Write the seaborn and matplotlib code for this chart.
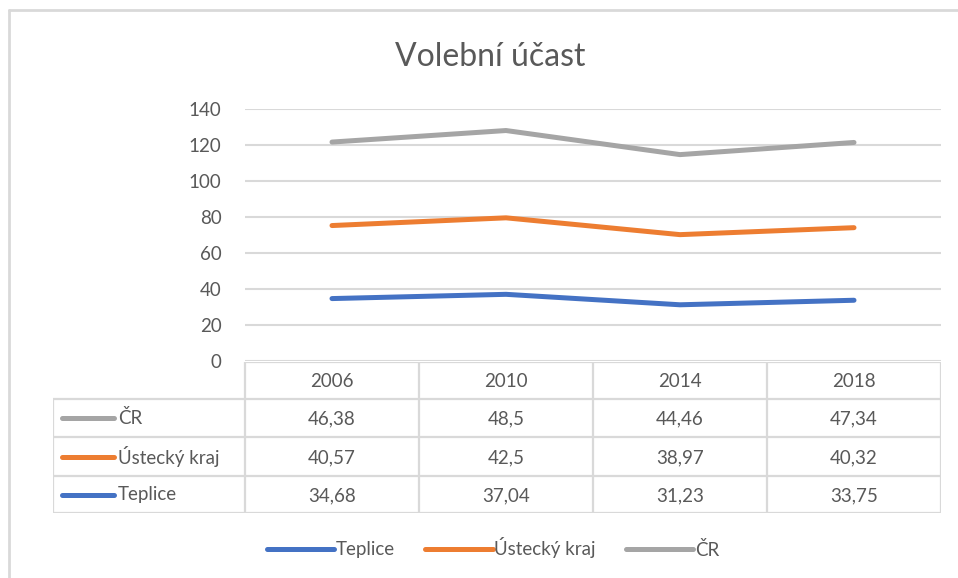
import pandas as pd
import seaborn as sns
import matplotlib.pyplot as plt
from matplotlib.lines import Line2D

# Data
roky = ["2006", "2010", "2014", "2018"]
serie = ["Teplice", "Ústecký kraj", "ČR"]
teplice = [34.68, 37.04, 31.23, 33.75]
ustecky = [40.57, 42.5, 38.97, 40.32]
cr = [46.38, 48.5, 44.46, 47.34]
barvy = ["#4472C4", "#ED7D31", "#A5A5A5"]
yticks = [0, 20, 40, 60, 80, 100, 120, 140]

# Skládaný spojnicový graf -> kumulativní součty
hodnoty = {"Teplice": teplice, "Ústecký kraj": ustecky, "ČR": cr}
df = pd.DataFrame(hodnoty, index=roky)
cum = df.cumsum(axis=1)
long_df = cum.reset_index(names="rok").melt(id_vars="rok", var_name="serie", value_name="hodnota")
long_df["x"] = long_df["rok"].map({r: i for i, r in enumerate(roky)})

sns.set_style("white")
plt.rcParams["font.family"] = ["Lato", "DejaVu Sans"]
text_col = "#595959"
grid_col = "#D9D9D9"
fs = 13.5

W, H = 958, 578
fig = plt.figure(figsize=(W / 100, H / 100), dpi=100)

def px(x0, y0, x1, y1):
    return [x0 / W, 1 - y1 / H, (x1 - x0) / W, (y1 - y0) / H]

# okraj grafu
fig.add_artist(Line2D([9 / W, 9 / W], [0, 1 - 10 / H], color="#D9D9D9", lw=2))
fig.add_artist(Line2D([9 / W, 1], [1 - 10 / H, 1 - 10 / H], color="#D9D9D9", lw=2))

ax = fig.add_axes(px(245, 109, 941, 361))
sns.lineplot(data=long_df, x="x", y="hodnota", hue="serie", hue_order=serie,
             palette=barvy, linewidth=3.6, ax=ax, legend=False)
ax.set_xlim(-0.5, len(roky) - 0.5)
ax.set_ylim(0, 140)
ax.set_yticks(yticks)
ax.set_yticklabels([str(t) for t in yticks], color=text_col, fontsize=fs)
ax.tick_params(axis="y", length=0, pad=17)
ax.set_xticks([])
ax.set_xlabel("")
ax.set_ylabel("")
ax.grid(axis="y", color=grid_col, lw=1.5)
ax.set_axisbelow(True)
for s in ax.spines.values():
    s.set_visible(False)

fig.text(490 / W, 1 - 57 / H, "Volební účast", ha="center", va="center",
         fontsize=23, color=text_col)

# Tabulka dat
tab = fig.add_axes(px(53, 362, 941, 513))
tab.set_xlim(53, 941)
tab.set_ylim(513, 362)
tab.axis("off")
col_x = [245 + i * 696 / 4 for i in range(5)]
row_y = [362, 399, 437, 476, 513]
lc = dict(color=grid_col, lw=1.6, solid_capstyle="butt")
for x in col_x:
    tab.plot([x, x], [row_y[0], row_y[-1]], **lc)
tab.plot([53, 53], [row_y[1], row_y[-1]], **lc)
tab.plot([col_x[0], col_x[-1]], [row_y[0], row_y[0]], **lc)
for y in row_y[1:]:
    tab.plot([53, col_x[-1]], [y, y], **lc)
for i, r in enumerate(roky):
    tab.text((col_x[i] + col_x[i + 1]) / 2, (row_y[0] + row_y[1]) / 2 + 1, r,
             ha="center", va="center", fontsize=fs, color=text_col)
rows = ["ČR", "Ústecký kraj", "Teplice"]
for j, name in enumerate(rows):
    yc = (row_y[j + 1] + row_y[j + 2]) / 2
    tab.plot([62, 114], [yc, yc], color=barvy[serie.index(name)], lw=3.6, solid_capstyle="round")
    tab.text(118, yc, name, ha="left", va="center", fontsize=fs, color=text_col)
    for i, v in enumerate(hodnoty[name]):
        tab.text((col_x[i] + col_x[i + 1]) / 2, yc + 1, str(v).replace(".", ","),
                 ha="center", va="center", fontsize=fs, color=text_col)

# Legenda
handles = [Line2D([], [], color=c, lw=3.6, solid_capstyle="round") for c in barvy]
fig.legend(handles, serie, loc="center", bbox_to_anchor=(493 / W, 1 - 548 / H), ncol=3,
           frameon=False, handlelength=3.6, handletextpad=0.1, columnspacing=1.6,
           prop={"size": fs}, labelcolor=text_col)

fig.savefig("out.png", dpi=100)
